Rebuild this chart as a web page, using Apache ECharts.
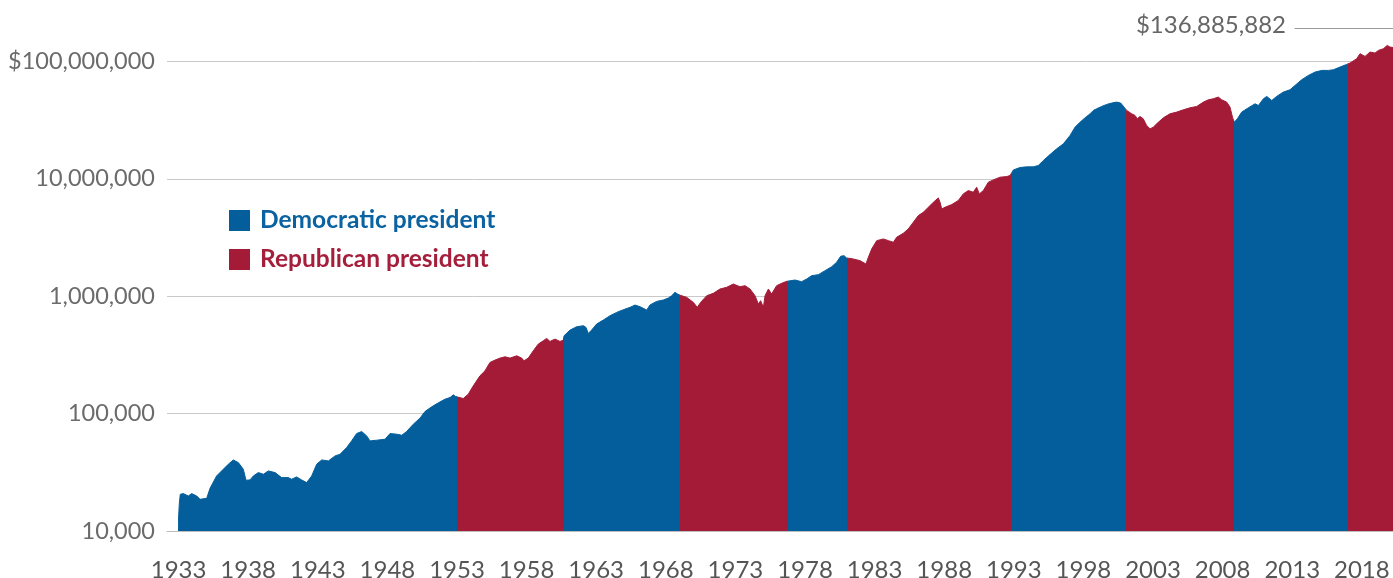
<!DOCTYPE html>
<html>
<head>
<meta charset="utf-8">
<script src="https://cdn.jsdelivr.net/npm/echarts@6/dist/echarts.min.js"></script>
<style>
html,body{margin:0;padding:0;background:#fff;}
#chart{width:1393px;height:578px;}
</style>
</head>
<body>
<div id="chart"></div>
<script>
// ---- Data ----
const years = [
1932.95,1933.05,1933.12,1933.34,1933.70,1933.94,1934.30,1934.54,1935.02,1935.26,1935.73,1936.21,1936.57,1936.93,
1937.29,1937.65,1937.84,1938.13,1938.37,1938.73,1939.09,1939.45,1939.93,1940.40,1940.88,1941.12,1941.48,1941.84,
1942.20,1942.56,1942.92,1943.28,1943.76,1944.24,1944.60,1945.07,1945.43,1945.79,1946.15,1946.51,1946.75,1947.23,
1947.83,1948.19,1948.67,1949.03,1949.38,1949.86,1950.34,1950.70,1951.18,1951.66,1952.14,1952.50,1952.74,1952.90,
1953.02,1953.45,1953.81,1954.17,1954.65,1955.01,1955.37,1955.73,1956.09,1956.45,1956.81,1957.29,1957.65,1957.81,
1958.12,1958.48,1958.84,1959.20,1959.44,1959.68,1960.04,1960.40,1960.64,1960.69,1960.76,1961.12,1961.60,1962.08,
1962.27,1962.43,1962.67,1963.03,1963.51,1963.99,1964.47,1964.95,1965.43,1965.79,1966.15,1966.63,1966.86,1967.34,
1967.82,1968.18,1968.42,1968.66,1968.85,1969.02,1969.50,1969.98,1970.26,1970.50,1970.94,1971.41,1971.89,1972.37,
1972.85,1973.33,1973.69,1974.05,1974.41,1974.65,1974.81,1975.01,1975.13,1975.37,1975.60,1975.96,1976.32,1976.68,
1976.75,1976.80,1977.28,1977.76,1978.12,1978.48,1978.96,1979.44,1979.92,1980.27,1980.56,1980.80,1980.99,1981.04,
1981.11,1981.47,1981.95,1982.38,1982.55,1982.79,1983.15,1983.63,1983.99,1984.35,1984.58,1985.06,1985.42,1985.78,
1986.14,1986.50,1986.86,1987.22,1987.58,1987.70,1987.82,1988.06,1988.54,1989.01,1989.37,1989.73,1990.09,1990.33,
1990.52,1990.81,1991.17,1991.53,1992.01,1992.49,1992.73,1992.77,1992.97,1993.45,1993.92,1994.40,1994.76,1995.12,
1995.60,1996.08,1996.56,1997.04,1997.40,1997.76,1998.12,1998.48,1998.71,1998.95,1999.31,1999.67,2000.03,2000.39,
2000.68,2000.92,2001.04,2001.11,2001.47,2001.71,2001.87,2002.06,2002.30,2002.54,2002.79,2003.02,2003.26,2003.74,
2004.22,2004.70,2005.18,2005.66,2006.14,2006.62,2006.98,2007.33,2007.69,2007.93,2008.29,2008.53,2008.72,2008.84,
2008.89,2009.06,2009.37,2009.85,2010.33,2010.57,2010.93,2011.17,2011.53,2011.88,2012.36,2012.84,2013.20,2013.68,
2014.16,2014.64,2015.12,2015.60,2015.96,2016.43,2016.91,2017.03,2017.15,2017.63,2017.87,2018.23,2018.59,2018.95,
2019.19,2019.55,2019.83,2020.02,2020.24
];
const values = [
10000,17000,20550,20820,19890,20820,19890,18620,18990,23110,29450,33570,37040,40310,
38250,33570,27050,27230,29450,31440,30430,32490,31440,28500,28500,27590,28880,27230,
25830,29450,37040,40310,39540,43610,45070,51370,58560,67640,70350,64590,58560,59330,
60510,67640,66760,65460,70350,81220,91410,104200,114200,123500,132700,137100,144500,139800,
138000,134500,146400,172500,209900,231500,272700,285500,296900,304800,296900,310800,296900,281800,
296900,342900,390900,417400,436900,411900,431200,411900,422800,460000,475600,514600,549500,560400,
542400,482000,514600,579000,626100,681800,727900,767200,803200,840800,813800,762100,840800,903400,
927400,964700,1010000,1078000,1043000,1020000,977300,885900,803200,885900,1010000,1057000,1151000,1190000,
1270000,1205000,1229000,1151000,1010000,857500,915500,803200,1010000,1151000,1043000,1229000,1287000,1338000,
1360000,1373000,1373000,1330000,1401000,1496000,1526000,1650000,1785000,1944000,2187000,2216000,2117000,2130000,
2145000,2075000,2009000,1881000,2145000,2525000,2974000,3073000,2974000,2879000,3175000,3435000,3740000,4265000,
4861000,5188000,5723000,6315000,6876000,6315000,5539000,5723000,6032000,6524000,7436000,7939000,7683000,8478000,
7436000,7939000,9352000,9790000,10320000,10450000,10660000,11000000,11900000,12480000,12640000,12640000,12970000,14310000,
16100000,17990000,19860000,23380000,27540000,30390000,33080000,35790000,38200000,39480000,41330000,42990000,44130000,45010000,
44130000,40790000,39500000,38200000,35790000,34630000,32440000,33960000,32440000,28460000,26650000,27540000,29400000,33080000,
35790000,36980000,38710000,40250000,41330000,45010000,47110000,48040000,49640000,47110000,45010000,40790000,33080000,30390000,
29400000,32440000,36980000,40250000,43550000,42120000,48040000,50300000,46500000,50300000,54750000,57330000,62420000,69760000,
75960000,81100000,83810000,83810000,84900000,89460000,94280000,95500000,96780000,105400000,116300000,110300000,120100000,117800000,
124100000,128300000,136885882,132500000,131500000
];
// Presidential terms: start year (as plotted) and party
const termStarts = [1932.95, 1953.02, 1960.69, 1969.02, 1976.75, 1981.04, 1992.77, 2001.04, 2008.84, 2017.03];
const termParty  = ['D', 'R', 'D', 'R', 'D', 'R', 'D', 'R', 'D', 'R'];
const yearTicks = [1933,1938,1943,1948,1953,1958,1963,1968,1973,1978,1983,1988,1993,1998,2003,2008,2013,2018];
const valueTicks = [10000, 100000, 1000000, 10000000, 100000000];
const finalValue = 136885882;
const seriesNames = {D: 'Democratic president', R: 'Republican president'};

const COLORS = {D: '#035e9b', R: '#a31b37'};
const TEXTCOLORS = {D: '#0a62a0', R: '#a51e3b'};
const FONT = 'Lato, "Noto Sans", sans-serif';

const pieces = termStarts.map((s, k) => {
  const p = {gte: s, color: COLORS[termParty[k]]};
  if (k < termStarts.length - 1) p.lt = termStarts[k + 1];
  return p;
});

const chart = echarts.init(document.getElementById('chart'), null, {renderer: 'canvas'});
const fmt = v => v.toLocaleString('en-US');

chart.setOption({
  animation: false,
  backgroundColor: '#fff',
  grid: {left: 167, right: 0, top: -56, bottom: 47, containLabel: false, outerBoundsMode: 'none'},
  legend: {
    left: 229, top: 208, orient: 'vertical', padding: 0,
    itemWidth: 21, itemHeight: 21, itemGap: 14,
    icon: 'rect',
    selectedMode: false,
    textStyle: {fontFamily: FONT, fontSize: 24.5, fontWeight: 'bold', lineHeight: 21, padding: [0, 0, 0, 5]},
    data: [
      {name: seriesNames.D, textStyle: {color: TEXTCOLORS.D}},
      {name: seriesNames.R, textStyle: {color: TEXTCOLORS.R}}
    ]
  },
  visualMap: {
    type: 'piecewise', show: false, dimension: 0, seriesIndex: 0,
    pieces: pieces
  },
  xAxis: {
    type: 'value',
    min: 1932.167, max: 2020.24,
    axisLine: {show: true, lineStyle: {color: '#bdbdbd', width: 1}},
    axisTick: {show: false},
    splitLine: {show: false},
    axisLabel: {
      customValues: yearTicks,
      formatter: v => String(v),
      fontFamily: FONT, fontSize: 24, color: '#555', margin: 27
    }
  },
  yAxis: {
    type: 'log', logBase: 10,
    min: 1e4, max: 1e9,
    axisLine: {show: false},
    axisTick: {show: false},
    splitLine: {show: true, lineStyle: {color: '#c8c8c8', width: 1}},
    axisLabel: {
      customValues: valueTicks,
      formatter: v => (v >= 1e8 && v < 1e9 ? '$' : '') + fmt(v),
      fontFamily: FONT, fontSize: 23.5, color: '#6b6b6b', margin: 12
    }
  },
  series: [
    {
      name: 'Portfolio value',
      type: 'line',
      data: years.map((t, i) => [t, values[i]]),
      symbol: 'none',
      lineStyle: {width: 1},
      areaStyle: {opacity: 1, origin: 'start'},
      z: 2
    },
    {name: seriesNames.D, type: 'line', data: [], color: COLORS.D},
    {name: seriesNames.R, type: 'line', data: [], color: COLORS.R}
  ],
  graphic: [
    {
      type: 'text', right: 1393 - 1286, top: 13,
      style: {text: '$' + fmt(finalValue), fontFamily: FONT, fontSize: 24, fill: '#666', textAlign: 'right'}
    },
    {
      type: 'line', left: 1292, top: 26,
      shape: {x1: 0, y1: 0, x2: 101, y2: 0},
      style: {stroke: '#9a9a9a', lineWidth: 1}
    }
  ]
});
</script>
</body>
</html>
